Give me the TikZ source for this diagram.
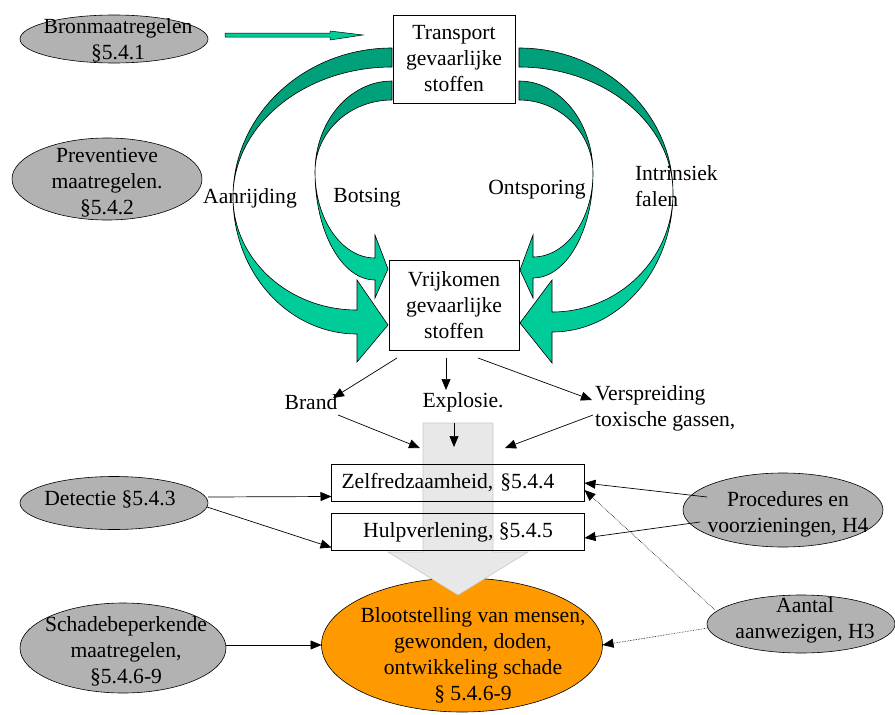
\documentclass[tikz,border=0pt]{standalone}
\usepackage{fontspec}
\setmainfont{Liberation Serif}
\usetikzlibrary{shapes.geometric,arrows.meta}
\definecolor{ovaalgrijs}{RGB}{178,178,178}
\definecolor{oranje}{RGB}{255,153,0}
\definecolor{tealL}{RGB}{0,204,153}
\definecolor{tealD}{RGB}{0,160,122}
\definecolor{pijlgrijs}{RGB}{232,232,232}
\definecolor{randgrijs}{RGB}{200,200,200}

\begin{document}
\begin{tikzpicture}[x=1pt, y=-1pt, font=\fontsize{21.6}{26}\selectfont,
        every node/.style={inner sep=0pt, outer sep=0pt},
        ovaal/.style={ellipse, draw, fill=ovaalgrijs, line width=0.6pt},
        doos/.style={rectangle, draw, line width=0.6pt, align=center},
        tekst/.style={align=center},
        band/.style={draw=black, line width=0.6pt},
        pijl/.style={line width=0.7pt, -{Triangle[length=11pt, width=9pt]}},
        stip/.style={pijl, line width=0.6pt, densely dotted}]
            \useasboundingbox (0,0) rectangle (895,715);

            % gebogen pijlen
            \filldraw[band, fill=tealD] (392,48) .. controls (304.2,48) and (233,114.7) .. (233,197) .. controls (233,125.2) and (304.2,67) .. (392,67) -- cycle;
            \filldraw[band, fill=tealL] (233,197) .. controls (233,259.4) and (288.5,310) .. (357,310) -- (357,280) -- (388,325) -- (357,362) -- (357,334) .. controls (288.5,334) and (233,272.7) .. (233,197) -- cycle;
            \filldraw[band, fill=tealD] (392,81) .. controls (349.5,81) and (315,121.7) .. (315,172) .. controls (315,132.2) and (349.5,100) .. (392,100) -- cycle;
            \filldraw[band, fill=tealL] (315,172) .. controls (315,219.5) and (341.9,258) .. (375,258) -- (375,235) -- (388,269) -- (375,298) -- (375,280) .. controls (341.9,280) and (315,231.6) .. (315,172) -- cycle;
            \filldraw[band, fill=tealD] (519,48) .. controls (604.1,48) and (673,112.9) .. (673,193) .. controls (673,123.4) and (604.1,67) .. (519,67) -- cycle;
            \filldraw[band, fill=tealL] (673,193) .. controls (673,258.7) and (618.8,312) .. (552,312) -- (552,280) -- (520,323) -- (552,363) -- (552,332) .. controls (618.8,332) and (673,269.8) .. (673,193) -- cycle;
            \filldraw[band, fill=tealD] (519,81) .. controls (559.9,81) and (593,122.2) .. (593,173) .. controls (593,132.7) and (559.9,100) .. (519,100) -- cycle;
            \filldraw[band, fill=tealL] (593,173) .. controls (593,219.4) and (566.1,257) .. (533,257) -- (533,235) -- (520,270) -- (533,298) -- (533,278) .. controls (566.1,278) and (593,231) .. (593,173) -- cycle;

            \node[doos, fill=white, minimum width=122, minimum height=88] (transport) at (454,59) {Transport\\gevaarlijke\\stoffen};
            \node[doos, fill=white, minimum width=130, minimum height=90] (vrij) at (454,305) {Vrijkomen\\gevaarlijke\\stoffen};

            \node[ovaal, minimum width=188, minimum height=48] (bron) at (114,39) {};
            \node[tekst] (bron-t) at (118,40) {Bronmaatregelen\\§5.4.1};
            \filldraw[band, line width=0.5pt, fill=tealL] (225,33) -- (330,33) -- (330,31) -- (363,35) -- (330,40) -- (330,37) -- (225,37) -- cycle;

            \node[ovaal, minimum width=190, minimum height=82] (prev) at (107,179) {};
            \node[tekst] (prev-t) at (107,183) {Preventieve\\maatregelen.\\§5.4.2};

            \node (aanr) at (250,198) {Aanrijding};
            \node (bots) at (367,198) {Botsing};
            \node (onts) at (537,190) {Ontsporing};
            \node[anchor=west, align=left] (intr) at (635,186) {Intrinsiek\\falen};

            \node (brand) at (311,402) {Brand};
            \node (expl) at (463,402) {Explosie.};
            \node[anchor=west, align=left] (versp) at (595,408) {Verspreiding\\toxische gassen,};

            \node[ellipse, draw, fill=oranje, line width=0.6pt, minimum width=281, minimum height=134] (bloot) at (462,645) {};
            \filldraw[fill=pijlgrijs, draw=randgrijs, line width=0.6pt] (423,423) -- (493,423) -- (493,552) -- (528,552) -- (458,595) -- (388,552) -- (423,552) -- cycle;
            \node[tekst] (bloot-t) at (473,655) {Blootstelling van mensen,\\gewonden, doden,\\ontwikkeling schade\\§ 5.4.6-9};

            \node[doos, minimum height=37, text width=233, inner xsep=10pt, align=left] (zelf) at (458,483) {Zelfredzaamheid, §5.4.4};
            \node[doos, minimum width=253, minimum height=37] (hulp) at (458,532) {Hulpverlening, §5.4.5};

            \node[ovaal, minimum width=188, minimum height=53] (det) at (114,503) {};
            \node[tekst] (det-t) at (110,500) {Detectie §5.4.3};
            \node[ovaal, minimum width=206, minimum height=90] (schade) at (123,648) {};
            \node[tekst] (schade-t) at (126,651) {Schadebeperkende\\maatregelen,\\§5.4.6-9};
            \node[ovaal, minimum width=200, minimum height=74] (proc) at (783,510) {};
            \node[tekst] (proc-t) at (788,514) {Procedures en\\voorzieningen, H4};
            \node[ovaal, minimum width=188, minimum height=58] (aantal) at (801,624) {};
            \node[tekst] (aantal-t) at (805,620) {Aantal\\aanwezigen, H3};

            \coordinate (naar-brand) at (333,398);
            \coordinate (naar-expl) at (446,390);
            \coordinate (naar-versp) at (592,400);
            \coordinate (uit-brand) at (338,415);
            \coordinate (uit-expl) at (454,423);
            \coordinate (uit-versp) at (593,415);
            \coordinate (trechter-l) at (420,448);
            \coordinate (trechter-m) at (454,447);
            \coordinate (trechter-r) at (505,448);

            \draw[pijl] ([shift={(-57,8)}]vrij.south) -- (naar-brand);
            \draw[pijl] ([shift={(-8,8)}]vrij.south) -- (naar-expl);
            \draw[pijl] ([shift={(24,8)}]vrij.south) -- (naar-versp);
            \draw[pijl] (uit-brand) -- (trechter-l);
            \draw[pijl] (uit-expl) -- (trechter-m);
            \draw[pijl] (uit-versp) -- (trechter-r);

            \draw[pijl] ([shift={(0,-6)}]det.east) -- ([shift={(0,-5)}]zelf.south west);
            \draw[pijl] ([shift={(-1,4)}]det.east) -- ([shift={(0,-3)}]hulp.south west);
            \draw[pijl] ([shift={(24,-13)}]proc.west) -- (zelf.east);
            \draw[pijl] ([shift={(17,12)}]proc.west) -- ([shift={(0,6)}]hulp.east);
            \draw[stip] ([shift={(8,-14)}]aantal.west) -- ([shift={(0,7)}]zelf.east);
            \draw[stip] ([shift={(1,4)}]aantal.west) -- (bloot.east);
            \draw[pijl] ([shift={(0,-3)}]schade.east) -- (bloot.west);
        \end{tikzpicture}
\end{document}
